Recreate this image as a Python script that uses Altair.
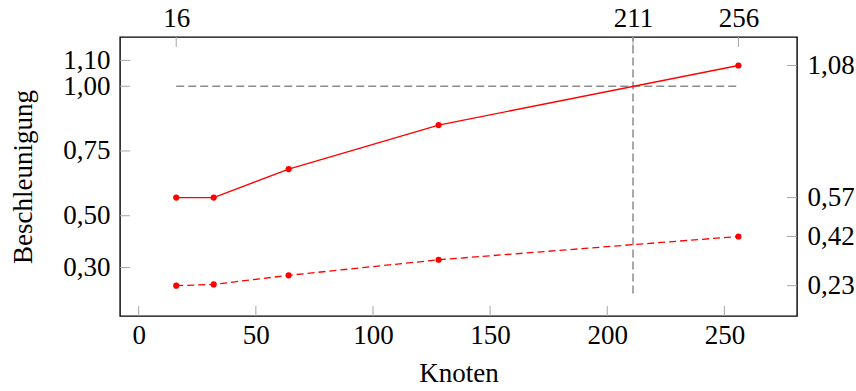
import altair as alt
import pandas as pd

# data
knoten = [16, 32, 64, 128, 256]
speedup_solid = [0.57, 0.57, 0.68, 0.85, 1.08]
speedup_dashed = [0.23, 0.235, 0.27, 0.33, 0.42]

bottom_ticks = [0, 50, 100, 150, 200, 250]
top_ticks = [16, 211, 256]
left_ticks = [0.30, 0.50, 0.75, 1.00, 1.10]
right_ticks = [0.23, 0.42, 0.57, 1.08]

ref_y = 1.0
ref_x = 211
ref_x_low = 0.2

x_domain = [-8, 281]
y_domain = [0.113, 1.19]

W, H = 677, 279
FONT = "Liberation Serif"
FS = 27
TICK = 10
GRAY = "#8c8c8c"
TICKGRAY = "#a6a6a6"

xs = alt.Scale(domain=x_domain, nice=False, zero=False)
ys = alt.Scale(domain=y_domain, nice=False, zero=False)
comma = "replace(format(datum.value, '.2f'), '.', ',')"

df_solid = pd.DataFrame({"x": knoten, "y": speedup_solid})
df_dashed = pd.DataFrame({"x": knoten, "y": speedup_dashed})

solid = alt.Chart(df_solid).mark_line(
    color="red", strokeWidth=1.3,
    point=alt.OverlayMarkDef(filled=True, size=38, color="red", opacity=1),
).encode(
    x=alt.X("x:Q", scale=xs, axis=alt.Axis(orient="bottom", values=bottom_ticks, format="d",
                                           title="Knoten", labelPadding=6, titlePadding=12)),
    y=alt.Y("y:Q", scale=ys, axis=alt.Axis(orient="left", values=left_ticks, labelExpr=comma,
                                           title="Beschleunigung", labelPadding=10, titlePadding=25)),
)

dashed = alt.Chart(df_dashed).mark_line(
    color="red", strokeWidth=1.3, strokeDash=[7, 4],
    point=alt.OverlayMarkDef(filled=True, size=38, color="red", opacity=1),
).encode(
    x=alt.X("x:Q", scale=xs, axis=alt.Axis(orient="top", values=top_ticks, format="d",
                                           title=None, labelPadding=5)),
    y=alt.Y("y:Q", scale=ys, axis=alt.Axis(orient="right", values=right_ticks, labelExpr=comma,
                                           title=None, labelPadding=10)),
)

href = alt.Chart(pd.DataFrame({"x": [knoten[0]], "x2": [knoten[-1]], "y": [ref_y]})).mark_rule(
    color=GRAY, strokeWidth=1.5, strokeDash=[8, 4]
).encode(
    x=alt.X("x:Q", scale=xs, axis=None), x2="x2:Q",
    y=alt.Y("y:Q", scale=ys, axis=None),
)

vref = alt.Chart(pd.DataFrame({"x": [ref_x], "y": [ref_x_low]})).mark_rule(
    color=GRAY, strokeWidth=1.5, strokeDash=[8, 4]
).encode(
    x=alt.X("x:Q", scale=xs, axis=None),
    y=alt.Y("y:Q", scale=ys, axis=None), y2=alt.value(0),
)

tb = alt.Chart(pd.DataFrame({"v": bottom_ticks})).mark_rule(color=TICKGRAY, strokeWidth=1).encode(
    x=alt.X("v:Q", scale=xs, axis=None), y=alt.value(H), y2=alt.value(H - TICK))
tt = alt.Chart(pd.DataFrame({"v": top_ticks})).mark_rule(color=TICKGRAY, strokeWidth=1).encode(
    x=alt.X("v:Q", scale=xs, axis=None), y=alt.value(0), y2=alt.value(TICK))
tl = alt.Chart(pd.DataFrame({"v": left_ticks})).mark_rule(color=TICKGRAY, strokeWidth=1).encode(
    y=alt.Y("v:Q", scale=ys, axis=None), x=alt.value(0), x2=alt.value(TICK))
tr = alt.Chart(pd.DataFrame({"v": right_ticks})).mark_rule(color=TICKGRAY, strokeWidth=1).encode(
    y=alt.Y("v:Q", scale=ys, axis=None), x=alt.value(W - TICK), x2=alt.value(W))

chart = alt.layer(tb, tt, tl, tr, href, vref, solid, dashed).resolve_scale(
    x="independent", y="independent"
).properties(
    width=W, height=H,
    autosize=alt.AutoSizeParams(type="none"),
    padding={"left": 120, "top": 37, "right": 59, "bottom": 75},
).configure_view(
    stroke="black", strokeWidth=1.4
).configure_axis(
    domain=False, ticks=False, grid=False,
    labelOverlap=False, labelBound=False, labelFlush=False,
    labelFont=FONT, labelFontSize=FS, labelColor="black",
    titleFont=FONT, titleFontSize=FS, titleFontWeight="normal", titleColor="black",
)

chart.save("out.html", embed_options={"renderer": "svg", "actions": False})
